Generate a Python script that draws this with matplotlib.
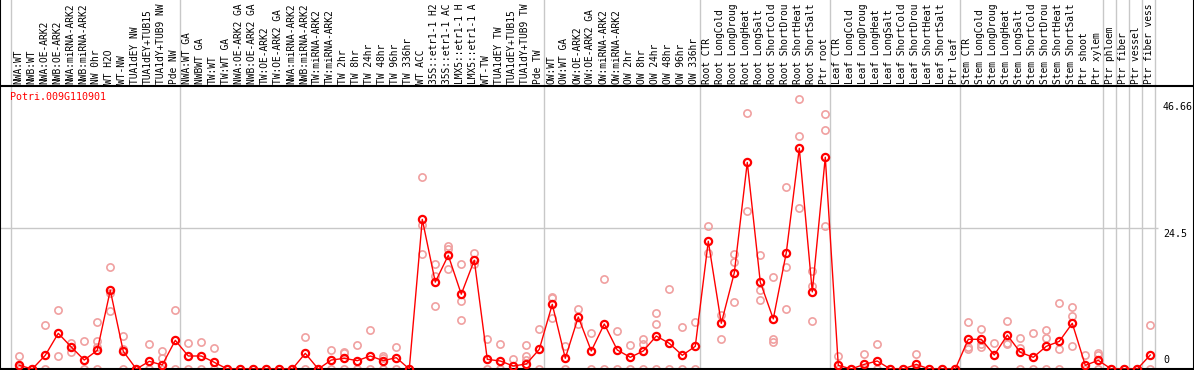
import matplotlib
matplotlib.use("Agg")
import matplotlib.pyplot as plt

# sample labels, in column order (as far as they show in the header strip)
labels = [
    "NWA:WT", "NWB:WT", "NWA:OE-ARK2", "NWB:OE-ARK2", "NWA:miRNA-ARK2",
    "NWB:miRNA-ARK2", "NW 0hr", "WT H2O", "WT-NW", "TUA1dEY NW",
    "TUA1dEY+TUB15", "TUA1dY+TUB9 NW", "Pde NW",
    "NWA:WT GA", "NWBWT GA", "TW:WT", "TW:WT GA", "NWA:OE-ARK2 GA",
    "NWB:OE-ARK2 GA", "TW:OE-ARK2", "TW:OE-ARK2 GA", "NWA:miRNA-ARK2",
    "NWB:miRNA-ARK2", "TW:miRNA-ARK2", "TW:miRNA-ARK2", "TW 2hr", "TW 8hr",
    "TW 24hr", "TW 48hr", "TW 96hr", "TW 336hr", "WT ACC",
    "35S::etr1-1 H2", "35S::etr1-1 AC", "LMX5::etr1-1 H",
    "LMX5::etr1-1 A", "WT-TW", "TUA1dEY TW", "TUA1dEY+TUB15",
    "TUA1dY+TUB9 TW", "Pde TW",
    "OW:WT", "OW:WT GA", "OW:OE-ARK2", "OW:OE-ARK2 GA", "OW:miRNA-ARK2",
    "OW:miRNA-ARK2", "OW 2hr", "OW 8hr", "OW 24hr", "OW 48hr", "OW 96hr",
    "OW 336hr",
    "Root CTR", "Root LongCold", "Root LongDroug", "Root LongHeat",
    "Root LongSalt", "Root ShortCold", "Root ShortDrou", "Root ShortHeat",
    "Root ShortSalt", "Ptr root",
    "Leaf CTR", "Leaf LongCold", "Leaf LongDroug", "Leaf LongHeat",
    "Leaf LongSalt", "Leaf ShortCold", "Leaf ShortDrou", "Leaf ShortHeat",
    "Leaf ShortSalt", "Ptr leaf",
    "Stem CTR", "Stem LongCold", "Stem LongDroug", "Stem LongHeat",
    "Stem LongSalt", "Stem ShortCold", "Stem ShortDrou", "Stem ShortHeat",
    "Stem ShortSalt", "Ptr shoot", "Ptr xylem",
    "Ptr phloem", "Ptr fiber", "Ptr vessel", "Ptr fiber vess",
]

# first column of each sample group
group_starts = [0, 13, 41, 53, 63, 73, 84, 85, 86, 87, 88]

means = [
    0.64, 0, 2.38, 6.2, 3.82, 1.56, 3.25, 13.67, 3.07, 0, 1.33, 0.7, 4.98,
    2.26, 2.26, 1.16, 0, 0, 0, 0, 0, 0, 2.72, 0, 1.56, 1.85, 1.45, 2.26,
    1.45, 1.97, 0, 26.0, 15.1, 19.75, 13.0, 18.9, 1.68, 1.39, 0.52, 0.87,
    3.42,
    11.24, 1.86, 9.04, 3.13, 7.82, 3.3, 2.03, 3.13, 5.73, 4.46, 2.38, 3.94,
    22.2, 7.94, 16.7, 35.9, 15.1, 8.7, 20.2, 38.35, 13.4, 36.8,
    0.64, 0, 0.81, 1.39, 0, 0, 0.81, 0, 0, 0,
    5.16, 5.16, 2.43, 5.9, 2.9, 2.03, 3.94, 4.8, 7.94, 0.64, 1.5,
    0, 0, 0, 2.43,
]

replicates = [
    [2.3, 0.3, 0], [0, 0], [7.6, 0], [10.2, 2.26], [4.57, 3.0], [4.87, 0],
    [8.17, 4.87, 3.9, 0], [17.7, 13.15, 10.08], [5.73, 3.5, 0], [0],
    [4.29, 0], [3.1, 1.97, 0], [10.2, 0],
    [4.46, 0], [4.69, 0], [3.65, 0], [0], [0], [0], [0], [0], [0],
    [5.56, 0], [0], [3.3, 0], [3.0, 2.7, 0], [4.11, 0], [6.78, 0],
    [2.3, 1.97, 0], [3.76, 0], [0], [33.3, 25.0, 19.9], [18.2, 16.2, 10.9],
    [21.4, 20.8, 17.3], [18.2, 11.9, 8.46], [20.1, 18.2], [5.16, 0],
    [4.34, 0], [1.74, 0], [4.23, 2.3, 1.6], [6.9, 0],
    [12.56, 12.3, 8.8], [4.05, 0], [10.4, 7.76], [6.26, 0], [15.6, 0],
    [6.6, 0], [4.17, 0], [5.2, 4.34, 0], [9.73, 7.76, 0], [13.9, 0],
    [7.3, 0], [8.1, 0],
    [24.85, 20.2], [9.4, 5.2], [20.0, 18.6, 11.6], [44.5, 27.5],
    [19.8, 13.7, 12.0], [16.0, 5.2, 4.75], [31.7, 17.8, 10.4],
    [47.0, 40.5, 28.0], [17.0, 14.5, 8.3], [44.3, 41.5, 24.85],
    [2.26, 0], [0], [2.6, 0], [4.34, 0], [0], [0], [2.6, 0], [0], [0], [0],
    [8.1, 3.9, 3.5], [6.9, 4.3, 3.9], [4.46, 0], [8.3, 4.6, 4.3],
    [5.3, 3.7, 0], [6.2, 0], [6.7, 5.3, 0], [11.4, 3.4, 0],
    [10.7, 9.2, 4.0], [2.43, 0], [2.84, 2.4, 0],
    [0], [0], [0], [7.65, 0],
]

gene = "Potri.009G110901"
y_ticks = [46.66, 24.5, 0]

W, H = 1194, 370
px_per_col = 13
left_px = 10.7
header_px = 86
zero_px = 369
px_per_unit = 5.755

mono = "DejaVu Sans Mono"
grey = "#c8c8c8"
pale = "#f0a0a0"

fig = plt.figure(figsize=(W / 100, H / 100), dpi=100)
xlim = (-left_px / px_per_col, (W - left_px) / px_per_col)

# data panel
ax = fig.add_axes([0, (H - zero_px) / H, 1, (zero_px - header_px) / H])
ax.set_xlim(*xlim)
ax.set_ylim(0, (zero_px - header_px) / px_per_unit)
ax.set_xticks([])
ax.set_yticks([])
for side in ["left", "right", "bottom"]:
    ax.spines[side].set_color("black")
    ax.spines[side].set_linewidth(1.5)
ax.spines["top"].set_visible(False)

n = len(labels)
for g in group_starts:
    ax.axvline(g, color=grey, lw=1, zorder=1)
ax.hlines(24.5, xlim[0], n + 0.25, color=grey, lw=1, zorder=1)

xs = [i + 0.66 for i in range(n)]
rx, ry = [], []
for x, reps in zip(xs, replicates):
    rx += [x] * len(reps)
    ry += reps
ax.plot(rx, ry, "o", ms=5.2, mfc="none", mec=pale, mew=1.2,
        clip_on=False, zorder=2)
ax.plot(xs, means, "-", color="red", lw=1, zorder=3)
ax.plot(xs, means, "o", ms=5.2, mfc="none", mec="red", mew=1.6,
        clip_on=False, zorder=4)

ax.text(10 / W, 1 - 11 / (zero_px - header_px), gene, color="red",
        fontsize=7.2, family=mono, ha="left", va="center",
        transform=ax.transAxes)

tr = ax.get_yaxis_transform()
for v in y_ticks:
    if v == 0:
        ax.annotate("0", xy=(1163 / W, v), xycoords=tr, xytext=(0, 3),
                    textcoords="offset points", fontsize=7.2, family=mono,
                    ha="left", va="bottom")
    else:
        ax.annotate(f"{v:g}", xy=(1163 / W, v), xycoords=tr,
                    xytext=(0, -1), textcoords="offset points",
                    fontsize=7.2, family=mono, ha="left", va="top")

# header with rotated sample names
hax = fig.add_axes([0, (H - header_px) / H, 1, header_px / H])
hax.set_xlim(*xlim)
hax.set_ylim(0, 1)
hax.set_xticks([])
hax.set_yticks([])
hax.patch.set_alpha(0)
for side in ["left", "right", "bottom"]:
    hax.spines[side].set_linewidth(1.5)
hax.spines["top"].set_visible(False)
for g in group_starts:
    hax.axvline(g, color=grey, lw=1, zorder=1)
for i, lab in enumerate(labels):
    hax.text(i + 0.58, 2.5 / header_px, lab, rotation=90, fontsize=6.9,
             family=mono, ha="center", va="bottom")

fig.savefig("out.png", dpi=100)
plt.close(fig)
